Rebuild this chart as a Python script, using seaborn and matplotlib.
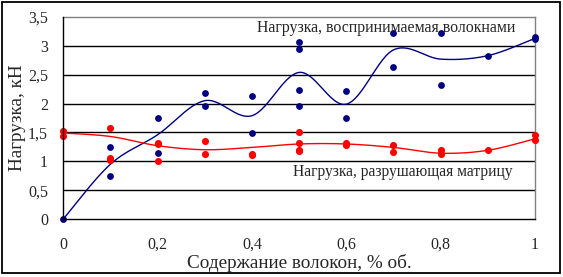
import numpy as np
import pandas as pd
import matplotlib
matplotlib.use("Agg")
import matplotlib.pyplot as plt
import seaborn as sns
from matplotlib.patches import Rectangle

# ---- data ----
fiber_x = [0, 0.1, 0.1, 0.2, 0.2, 0.3, 0.3, 0.4, 0.4, 0.5, 0.5, 0.5, 0.5,
           0.6, 0.6, 0.7, 0.7, 0.8, 0.8, 0.9, 1.0, 1.0]
fiber_y = [0, 1.25, 0.74, 1.75, 1.15, 2.18, 1.96, 2.13, 1.49, 3.06, 2.95, 2.24, 1.96,
           2.22, 1.75, 3.22, 2.63, 3.22, 2.33, 2.83, 3.16, 3.12]

matrix_x = [0, 0, 0.1, 0.1, 0.1, 0.2, 0.2, 0.2, 0.3, 0.3, 0.4, 0.4,
            0.5, 0.5, 0.5, 0.5, 0.6, 0.6, 0.7, 0.7, 0.8, 0.8, 0.9, 1.0, 1.0]
matrix_y = [1.52, 1.43, 1.58, 1.03, 1.05, 1.32, 1.30, 1.01, 1.36, 1.12, 1.13, 1.11,
            1.51, 1.31, 1.20, 1.17, 1.32, 1.29, 1.28, 1.16, 1.19, 1.12, 1.19, 1.46, 1.37]

curve_x = [0, 0.1, 0.2, 0.3, 0.4, 0.5, 0.6, 0.7, 0.8, 0.9, 1.0]
fiber_curve = [0, 0.95, 1.46, 2.05, 1.79, 2.54, 1.99, 2.93, 2.77, 2.83, 3.13]
matrix_curve = [1.49, 1.43, 1.27, 1.20, 1.24, 1.30, 1.30, 1.24, 1.14, 1.19, 1.39]

x_ticks = [0, 0.2, 0.4, 0.6, 0.8, 1.0]
x_tick_labels = ["0", "0,2", "0,4", "0,6", "0,8", "1"]
y_ticks = [0, 0.5, 1, 1.5, 2, 2.5, 3, 3.5]
y_tick_labels = ["0", "0,5", "1", "1,5", "2", "2,5", "3", "3,5"]

label_fiber = "Нагрузка, воспринимаемая волокнами"
label_matrix = "Нагрузка, разрушающая матрицу"
x_label = "Содержание волокон, % об."
y_label = "Нагрузка, кН"


def smooth(xs, ys, n=30):
    """Excel-style smoothed line (Catmull-Rom Bezier)."""
    P = np.column_stack([xs, ys]).astype(float)
    m = len(P)
    out = []
    for i in range(m - 1):
        p0 = P[i - 1] if i > 0 else P[i]
        p1 = P[i]
        p2 = P[i + 1]
        p3 = P[i + 2] if i + 2 < m else P[i + 1]
        c1 = p1 + (p2 - p0) / 6.0
        c2 = p2 - (p3 - p1) / 6.0
        t = np.linspace(0, 1, n, endpoint=(i == m - 2))[:, None]
        seg = ((1 - t) ** 3) * p1 + 3 * ((1 - t) ** 2) * t * c1 + 3 * (1 - t) * t ** 2 * c2 + t ** 3 * p2
        out.append(seg)
    arr = np.vstack(out)
    return pd.DataFrame({"x": arr[:, 0], "y": arr[:, 1]})


sns.set_style("white")
plt.rcParams["font.family"] = ["Liberation Serif", "DejaVu Serif"]

fig = plt.figure(figsize=(5.63, 2.77), dpi=100)
ax = fig.add_axes([63.3 / 563, 58 / 277, (535 - 63.3) / 563, (219 - 17) / 277])

navy = "#000080"
red = "#FF0000"

# gridlines
for yv in y_ticks[1:-1]:
    ax.axhline(yv, color="black", lw=1.0, zorder=1)

fdf = smooth(curve_x, fiber_curve)
mdf = smooth(curve_x, matrix_curve)
sns.lineplot(data=fdf, x="x", y="y", sort=False, estimator=None, color=navy, lw=1.0, ax=ax, zorder=3)
sns.lineplot(data=mdf, x="x", y="y", sort=False, estimator=None, color=red, lw=1.0, ax=ax, zorder=3)

sns.scatterplot(x=fiber_x, y=fiber_y, color=navy, s=24, linewidth=0, marker="o", ax=ax, zorder=4, clip_on=False)
sns.scatterplot(x=matrix_x, y=matrix_y, color=red, s=26, linewidth=0, marker="o", ax=ax, zorder=4, clip_on=False)

ax.set_xlim(0, 1)
ax.set_ylim(0, 3.5)
ax.set_xticks(x_ticks)
ax.set_xticklabels(x_tick_labels, fontsize=11.5)
ax.set_yticks(y_ticks)
ax.set_yticklabels(y_tick_labels, fontsize=11.5)
ax.tick_params(axis="both", direction="out", length=4, width=1, color="black")
ax.tick_params(axis="x", pad=9)
ax.tick_params(axis="y", pad=7)

for side in ["left", "bottom"]:
    ax.spines[side].set_color("black")
    ax.spines[side].set_linewidth(1.0)
for side in ["top", "right"]:
    ax.spines[side].set_color("#808080")
    ax.spines[side].set_linewidth(1.0)
ax.spines["left"].set_zorder(5)
ax.spines["bottom"].set_zorder(5)

ax.set_xlabel(x_label, fontsize=13.8, labelpad=1)
ax.set_ylabel(y_label, fontsize=13.8)
ax.yaxis.set_label_coords(-0.08, 0.5)

ax.text(0.41, 3.31, label_fiber, fontsize=11.4, ha="left", va="center", zorder=6)
ax.text(0.488, 0.81, label_matrix, fontsize=11.2, ha="left", va="center", zorder=6)

# outer chart frame
fig.patches.append(Rectangle((2 / 563, 4 / 277), 558 / 563, 271 / 277, transform=fig.transFigure,
                             fill=False, edgecolor="black", lw=1.3))

fig.savefig("out.png", dpi=100)
